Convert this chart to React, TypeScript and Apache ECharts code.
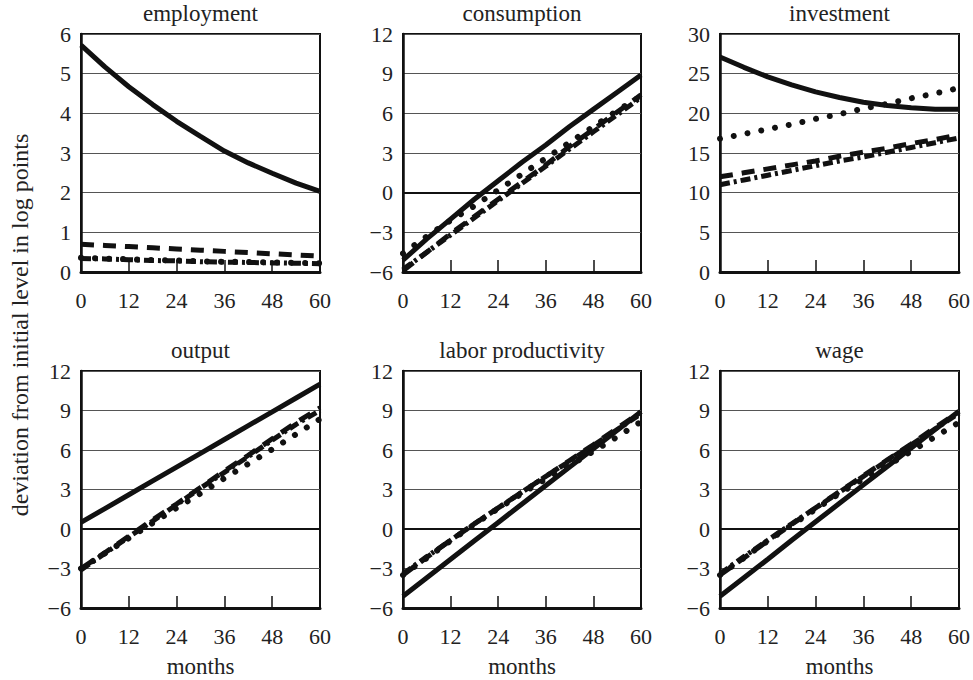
import React, { useEffect, useRef } from "react";
import * as echarts from "echarts";

const months = [0, 6, 12, 18, 24, 30, 36, 42, 48, 54, 60];
const panelTitles = ["employment", "consumption", "investment", "output", "labor productivity", "wage"];

// employment
const empSolid = [5.72, 5.17, 4.67, 4.22, 3.8, 3.42, 3.05, 2.75, 2.49, 2.24, 2.03];
const empDashed = [0.7, 0.67, 0.64, 0.61, 0.58, 0.55, 0.52, 0.49, 0.46, 0.43, 0.4];
const empDotted = [0.36, 0.34, 0.32, 0.3, 0.29, 0.27, 0.26, 0.25, 0.24, 0.23, 0.22];
const empDashDot = [0.34, 0.33, 0.31, 0.29, 0.28, 0.26, 0.25, 0.24, 0.23, 0.22, 0.21];
// consumption
const conSolid = [-5.1, -3.5, -2.0, -0.5, 0.9, 2.3, 3.6, 5.0, 6.3, 7.6, 8.9];
const conDashed = [-5.9, -4.5, -3.1, -1.8, -0.5, 0.8, 2.1, 3.5, 4.8, 6.1, 7.4];
const conDotted = [-4.6, -3.3, -2.1, -1.0, 0.2, 1.4, 2.6, 3.8, 5.0, 6.2, 7.3];
const conDashDot = [-5.8, -4.5, -3.2, -1.9, -0.6, 0.7, 2.0, 3.3, 4.6, 5.9, 7.2];
// investment
const invSolid = [27.1, 25.8, 24.6, 23.6, 22.7, 22.0, 21.4, 21.0, 20.7, 20.5, 20.5];
const invDashed = [12.0, 12.5, 13.0, 13.5, 14.0, 14.6, 15.1, 15.6, 16.2, 16.7, 17.3];
const invDotted = [16.8, 17.4, 18.0, 18.6, 19.3, 19.9, 20.6, 21.2, 21.9, 22.5, 23.2];
const invDashDot = [11.0, 11.6, 12.2, 12.8, 13.4, 14.0, 14.5, 15.1, 15.7, 16.3, 16.9];
// output
const outSolid = [0.5, 1.55, 2.6, 3.65, 4.7, 5.75, 6.8, 7.85, 8.9, 9.95, 11.0];
const outDashed = [-3.0, -1.8, -0.55, 0.7, 1.9, 3.15, 4.4, 5.6, 6.85, 8.1, 9.2];
const outDotted = [-3.0, -1.85, -0.7, 0.45, 1.6, 2.7, 3.85, 4.95, 6.05, 7.2, 8.35];
const outDashDot = [-3.1, -1.85, -0.6, 0.6, 1.85, 3.1, 4.3, 5.5, 6.75, 7.95, 9.0];
// labor productivity
const lpSolid = [-5.1, -3.7, -2.3, -0.9, 0.5, 1.9, 3.3, 4.7, 6.1, 7.5, 8.9];
const lpDashed = [-3.5, -2.15, -0.85, 0.4, 1.6, 2.8, 4.0, 5.2, 6.4, 7.65, 8.9];
const lpDotted = [-3.5, -2.2, -0.9, 0.35, 1.55, 2.7, 3.8, 4.8, 5.9, 7.0, 8.15];
const lpDashDot = [-3.4, -2.1, -0.85, 0.4, 1.6, 2.8, 4.0, 5.15, 6.35, 7.55, 8.75];
// wage
const wSolid = [-5.1, -3.7, -2.3, -0.85, 0.55, 1.95, 3.35, 4.75, 6.15, 7.55, 8.95];
const wDashed = [-3.5, -2.2, -0.9, 0.35, 1.6, 2.85, 4.05, 5.25, 6.45, 7.7, 8.9];
const wDotted = [-3.5, -2.2, -0.9, 0.3, 1.5, 2.7, 3.8, 4.8, 5.9, 7.0, 8.1];
const wDashDot = [-3.4, -2.1, -0.85, 0.4, 1.6, 2.8, 4.0, 5.2, 6.4, 7.6, 8.8];

const yRanges = [
  [0, 6, 1],
  [-6, 12, 3],
  [0, 30, 5],
  [-6, 12, 3],
  [-6, 12, 3],
  [-6, 12, 3],
];

const panelData = [
  [empSolid, empDashed, empDotted, empDashDot],
  [conSolid, conDashed, conDotted, conDashDot],
  [invSolid, invDashed, invDotted, invDashDot],
  [outSolid, outDashed, outDotted, outDashDot],
  [lpSolid, lpDashed, lpDotted, lpDashDot],
  [wSolid, wDashed, wDotted, wDashDot],
];

const FONT = "'Liberation Serif', 'DejaVu Serif', serif";

const lineStyles: any[] = [
  { width: 5, type: "solid", color: "#111" },
  { width: 5, type: [13, 9], cap: "butt", color: "#111" },
  { width: 6, type: [0.01, 14], cap: "round", color: "#111" },
  { width: 5, type: [10, 4, 3, 4], cap: "butt", color: "#111" },
];

export default function App() {
  const ref = useRef<HTMLDivElement>(null);
  useEffect(() => {
    if (!ref.current) return;
    const chart = echarts.init(ref.current, undefined, { renderer: "svg" });
    const lefts = [81, 403, 720];
    const widths = [239, 238, 239];
    const tops = [34, 371];
    const heights = [238, 237];
    const grids: any[] = [];
    const xAxes: any[] = [];
    const yAxes: any[] = [];
    const series: any[] = [];
    const graphics: any[] = [];
    for (let i = 0; i < 6; i++) {
      const r = Math.floor(i / 3);
      const c = i % 3;
      grids.push({
        left: lefts[c],
        top: tops[r],
        width: widths[c],
        height: heights[r],
        show: true,
        borderColor: "#111",
        borderWidth: 2,
        backgroundColor: "transparent",
      });
      xAxes.push({
        type: "value",
        gridIndex: i,
        min: 0,
        max: 60,
        interval: 12,
        axisLine: { show: true, onZero: false, lineStyle: { color: "#111", width: 3 } },
        axisTick: { show: true, inside: true, length: 12, lineStyle: { color: "#111", width: 1.5 } },
        axisLabel: { show: true, margin: 17, color: "#222", fontSize: 22, fontFamily: FONT },
        splitLine: { show: false },
      });
      const [mn, mx, iv] = yRanges[i];
      yAxes.push({
        type: "value",
        gridIndex: i,
        min: mn,
        max: mx,
        interval: iv,
        axisLine: { show: true, onZero: false, lineStyle: { color: "#111", width: 2.5 } },
        axisTick: { show: false },
        axisLabel: {
          show: true,
          margin: 10,
          color: "#222",
          fontSize: 22,
          fontFamily: FONT,
          formatter: (v: number) => String(v).replace("-", "\u2212"),
        },
        splitLine: { show: true, lineStyle: { color: "#555", width: 1 } },
      });
      const data = panelData[i];
      for (let k = 0; k < 4; k++) {
        const s: any = {
          type: "line",
          xAxisIndex: i,
          yAxisIndex: i,
          data: months.map((m, j) => [m, data[k][j]]),
          symbol: "none",
          showSymbol: false,
          lineStyle: lineStyles[k],
          z: 3 + k,
          silent: true,
        };
        if (k === 0 && mn < 0) {
          s.markLine = {
            silent: true,
            symbol: "none",
            label: { show: false },
            lineStyle: { color: "#111", width: 2, type: "solid" },
            data: [{ yAxis: 0 }],
            z: 2,
          };
        }
        series.push(s);
      }
      graphics.push({
        type: "text",
        x: lefts[c] + widths[c] / 2,
        y: tops[r] - 21,
        style: {
          text: panelTitles[i],
          align: "center",
          verticalAlign: "middle",
          fontSize: 23,
          fontFamily: FONT,
          fill: "#222",
        },
      });
      if (r === 1) {
        graphics.push({
          type: "text",
          x: lefts[c] + widths[c] / 2,
          y: 666,
          style: {
            text: "months",
            align: "center",
            verticalAlign: "middle",
            fontSize: 23,
            fontFamily: FONT,
            fill: "#222",
          },
        });
      }
    }
    graphics.push({
      type: "text",
      x: 20,
      y: 325,
      rotation: Math.PI / 2,
      style: {
        text: "deviation from initial level in log points",
        align: "center",
        verticalAlign: "middle",
        fontSize: 24,
        fontFamily: FONT,
        fill: "#222",
      },
    });
    chart.setOption({
      animation: false,
      backgroundColor: "#fff",
      grid: grids,
      xAxis: xAxes,
      yAxis: yAxes,
      series,
      graphic: graphics,
    });
    return () => chart.dispose();
  }, []);
  return (
    <div
      ref={ref}
      style={{ position: "absolute", left: 0, top: 0, width: 973, height: 680 }}
    />
  );
}
